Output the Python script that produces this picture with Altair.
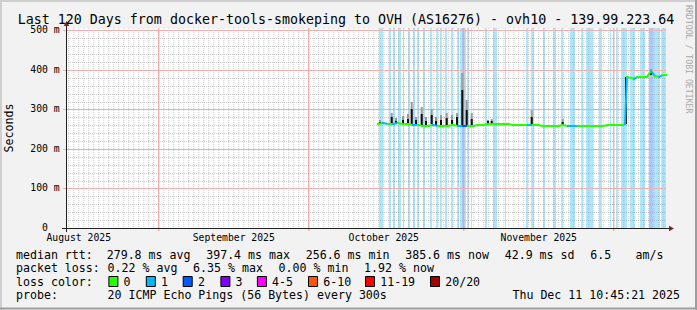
import altair as alt
import pandas as pd

# ---------------- data (times are days since 2025-08-01 00:00) ----------------
T0 = pd.Timestamp("2025-08-01 00:00")

med_day = [74.85, 75.85, 76.85, 77.85, 78.85, 79.85, 80.85, 81.85, 82.85, 83.85,
           84.85, 85.85, 86.85, 87.85, 88.85, 89.85, 90.85, 91.85, 92.85, 93.85,
           94.85, 95.85, 96.85, 97.85, 98.85, 99.85, 100.85, 101.85, 102.85, 103.85,
           104.85, 105.85, 106.85, 107.85, 108.85, 109.85, 110.85, 111.85, 112.85, 113.85,
           114.85, 115.85, 116.85, 117.85, 118.85, 119.85, 120.85, 121.85, 122.85, 123.85,
           124.25, 124.65, 125.65, 126.05, 126.65, 127.65, 128.65, 129.45, 130.25, 131.05,
           131.85, 132.45]
med_ms = [264, 266, 264, 263, 265, 264, 262, 260, 261, 259,
          259, 260, 258, 259, 258, 260, 257, 258, 259, 259,
          261, 261, 262, 263, 263, 262, 262, 261, 261, 260,
          260, 261, 260, 259, 259, 258, 258, 260, 258, 258,
          257, 258, 258, 258, 258, 259, 260, 261, 261, 261,
          262, 382, 380, 377, 382, 383, 383, 396, 385, 381,
          386, 386]
med_loss = [0, 1, 0, 1, 0, 0, 0, 1, 0, 0,
            0, 1, 0, 0, 0, 0, 1, 2, 0, 0,
            0, 0, 0, 0, 0, 0, 0, 0, 0, 0,
            1, 0, 0, 0, 0, 0, 0, 0, 1, 1,
            0, 0, 0, 0, 0, 0, 0, 0, 0, 0,
            1, 0, 0, 1, 0, 0, 0, 1, 0, 1,
            0, 0]

# smoke spikes: time, low, high (light smoke) and core (dark smoke) in ms
smoke_day = [75.25, 77.59, 78.45, 79.85, 80.85, 81.59, 82.45, 83.59, 84.45, 85.59,
             86.45, 87.45, 88.59, 89.65, 90.65, 91.71, 92.59, 93.59, 96.85, 97.59,
             105.59, 111.79, 124.45, 129.45]
smoke_lo = [266, 264, 266, 266, 264, 262, 262, 261, 261, 262,
            260, 261, 260, 262, 259, 260, 261, 261, 264, 265,
            263, 262, 264, 386]
smoke_hi = [274, 290, 278, 284, 288, 320, 282, 305, 280, 300,
            282, 287, 292, 286, 292, 392, 325, 292, 274, 275,
            298, 275, 382, 402]
smoke_core = [269, 280, 270, 272, 276, 302, 272, 289, 270, 285,
              270, 274, 279, 274, 280, 348, 298, 277, 270, 270,
              282, 269, 382, 398]

# loss background bars: start, end, loss bucket
loss_start = [75.05, 77.05, 77.85, 78.85, 79.85, 80.85, 81.85, 82.65, 83.85, 85.25,
              86.45, 87.25, 88.25, 89.45, 90.65, 91.25, 91.65, 92.05, 92.65, 93.45,
              96.25, 97.85, 100.25, 104.45, 105.45, 107.85, 109.85, 111.45, 113.25, 115.45,
              116.45, 119.05, 121.25, 122.45, 123.45, 125.25, 127.25, 129.05, 129.85, 131.45]
loss_end = [75.85, 77.45, 78.25, 79.45, 80.05, 81.25, 82.25, 83.05, 84.25, 85.65,
            86.85, 87.65, 88.65, 89.85, 91.05, 91.65, 92.05, 92.45, 93.05, 93.65,
            96.65, 98.65, 100.45, 104.85, 106.05, 108.25, 110.45, 111.85, 114.25, 115.85,
            117.85, 119.65, 121.45, 122.85, 124.65, 126.25, 128.25, 129.85, 131.25, 132.45]
loss_lvl = [1, 1, 1, 1, 1, 1, 1, 1, 1, 1,
            1, 1, 1, 1, 1, 1, 2, 1, 1, 1,
            1, 1, 1, 1, 1, 1, 1, 1, 1, 1,
            1, 1, 1, 1, 1, 1, 1, 2, 1, 1]

loss_labels = ["0", "1", "2", "3", "4-5", "6-10", "11-19", "20/20"]
loss_colors = ["#26ff00", "#00b8ff", "#0059ff", "#7e00ff", "#ff00ff", "#ff5500", "#ff0000", "#a10000"]

# axis ticks / labels
month_starts = ["2025-09-01", "2025-10-01", "2025-11-01", "2025-12-01"]
month_label_dates = ["2025-08-16", "2025-09-16", "2025-10-16", "2025-11-16"]
month_labels = ["August 2025", "September 2025", "October 2025", "November 2025"]
day_grid = [d for d in pd.date_range("2025-08-14", "2025-12-11", freq="D") if d.day != 1]
y_minor = [v for v in range(20, 501, 20) if v % 100]
y_major = [100, 200, 300, 400, 500]
y_label_vals = [0, 100, 200, 300, 400, 500]
y_label_text = ["0", "100 m", "200 m", "300 m", "400 m", "500 m"]

title_text = "Last 120 Days from docker-tools-smokeping to OVH (AS16276) - ovh10 - 139.99.223.64"
legend1 = ["median rtt:", "279.8 ms avg", "397.4 ms max", "256.6 ms min", "385.6 ms now",
           "42.9 ms sd", "6.5", "am/s"]
legend2 = ["packet loss:", "0.22 % avg", "6.35 % max", "0.00 % min", "1.92 % now"]
legend3 = "loss color:"
legend4 = ["probe:", "20 ICMP Echo Pings (56 Bytes) every 300s"]
legend_date = "Thu Dec 11 10:45:21 2025"

# ---------------- layout (pixels) ----------------
legend1_x = [16, 106.7, 206.2, 305.7, 405.2, 504.7, 590.2, 635.6]
legend2_x = [16, 107.6, 193.1, 278.6, 364.1]
legend4_x = [16, 107.6]
box_x = [108.4, 145.8, 182.7, 220.4, 256.9, 308, 365, 430]
row_y = [258.5, 272, 285.5, 299.3]

# ---------------- frames ----------------
def tdays(days):
    return [T0 + pd.Timedelta(days=float(d)) for d in days]

med = pd.DataFrame({"t": tdays(med_day), "ms": med_ms, "loss": med_loss})
med["t2"] = med["t"].shift(-1)
med["ms2"] = med["ms"].shift(-1)
med = med.dropna()

smoke = pd.DataFrame({"t": tdays(smoke_day), "lo": smoke_lo, "hi": smoke_hi, "core": smoke_core})
loss = pd.DataFrame({"s": tdays(loss_start), "e": tdays(loss_end), "loss": loss_lvl})
months = pd.DataFrame({"tm": pd.to_datetime(month_starts)})
mlabels = pd.DataFrame({"tl": pd.to_datetime(month_label_dates), "label": month_labels})
days = pd.DataFrame({"td": day_grid})
ymin = pd.DataFrame({"vmin": y_minor})
ymaj = pd.DataFrame({"vmaj": y_major})
ylab = pd.DataFrame({"vl": y_label_vals, "s": y_label_text})

FONT = "DejaVu Sans Mono"
W, H = 600, 200
OX, OY = 66, 28
xdom = [alt.DateTime(year=2025, month=8, date=13, hours=10, minutes=45),
        alt.DateTime(year=2025, month=12, date=11, hours=10, minutes=45)]
xscale = alt.Scale(domain=xdom)
yscale = alt.Scale(domain=[0, 506], nice=False, zero=True, round=True)
cscale = alt.Scale(domain=list(range(8)), range=loss_colors)

bars = alt.Chart(loss).mark_rect(opacity=0.33).encode(
    x=alt.X("s:T", scale=xscale, axis=None),
    x2="e:T",
    y=alt.value(0), y2=alt.value(H),
    color=alt.Color("loss:O", scale=cscale, legend=None),
)

xminor = alt.Chart(days).mark_rule(stroke="#8f8f8f", strokeOpacity=0.45,
                                   strokeDash=[1, 1], strokeWidth=1).encode(
    x=alt.X("td:T", axis=None), y=alt.value(0), y2=alt.value(H))
yminor = alt.Chart(ymin).mark_rule(yOffset=0.5, stroke="#8f8f8f", strokeOpacity=0.45,
                                   strokeDash=[1, 1], strokeWidth=1).encode(
    y=alt.Y("vmin:Q", scale=yscale, axis=None), x=alt.value(0), x2=alt.value(W))
xmajor = alt.Chart(months).mark_rule(stroke="#eba0a0", strokeWidth=1.2).encode(
    x=alt.X("tm:T", axis=None), y=alt.value(0), y2=alt.value(H + 3))
ymajor = alt.Chart(ymaj).mark_rule(yOffset=0.5, stroke="#efacac", strokeWidth=1).encode(
    y=alt.Y("vmaj:Q", axis=None), x=alt.value(-3), x2=alt.value(W))

median = alt.Chart(med).mark_rule(strokeWidth=2, strokeCap="square").encode(
    x=alt.X("t:T", axis=None), x2="t2:T",
    y=alt.Y("ms:Q", axis=None), y2="ms2:Q",
    color=alt.Color("loss:O", scale=cscale, legend=None),
)
smoke_light = alt.Chart(smoke).mark_rule(color="#9a9a9a", strokeWidth=2).encode(
    x=alt.X("t:T", axis=None), y=alt.Y("lo:Q", axis=None), y2="hi:Q")
smoke_dark = alt.Chart(smoke).mark_rule(color="#111111", strokeWidth=2).encode(
    x=alt.X("t:T", axis=None), y=alt.Y("lo:Q", axis=None), y2="core:Q")

ylabels = alt.Chart(ylab).mark_text(font=FONT, fontSize=9.75, align="center", baseline="middle",
                                    color="#000000").encode(
    y=alt.Y("vl:Q", axis=None), x=alt.value(-21), text="s:N")
month_text = alt.Chart(mlabels).mark_text(font=FONT, fontSize=9.75, baseline="alphabetic",
                                          color="#000000").encode(
    x=alt.X("tl:T", axis=None), y=alt.value(213.3), text="label:N")

one = alt.Data(values=[{"k": 0}])

def rule(x, x2, y, y2, color, width=1):
    return alt.Chart(one).mark_rule(color=color, strokeWidth=width).encode(
        x=alt.value(x), x2=alt.value(x2), y=alt.value(y), y2=alt.value(y2))

def text(s, x, y, size, align="left", angle=0, color="#000000", baseline="alphabetic"):
    return alt.Chart(alt.Data(values=[{"s": s.replace(" ", "\u00a0")}])).mark_text(
        font=FONT, fontSize=size, align=align, baseline=baseline, angle=angle, color=color
    ).encode(text="s:N", x=alt.value(x), y=alt.value(y))

axes = [
    rule(-4, 607, H + 0.5, H + 0.5, "#1f1f1f"),
    rule(0.5, 0.5, -5, H + 4, "#1f1f1f"),
    alt.Chart(one).mark_point(shape="triangle-right", filled=True, size=32, color="#7f1f1f", opacity=1).encode(
        x=alt.value(605.5), y=alt.value(H + 0.5)),
    alt.Chart(one).mark_point(shape="triangle-up", filled=True, size=32, color="#7f1f1f", opacity=1).encode(
        x=alt.value(0.5), y=alt.value(-4.5)),
]

FS = 11.6
texts = [
    text(title_text, 280, 23.8 - OY, 13.3, align="center"),
    text("Seconds", 10 - OX, 128 - OY, FS, align="center", angle=270, baseline="middle"),
    text("RRDTOOL / TOBI OETIKER", 688 - OX, 5 - OY, 8.2, align="left", angle=90, color="#a8a8a8",
         baseline="middle"),
]
for s, x in zip(legend1, legend1_x):
    texts.append(text(s, x - OX, row_y[0] - OY, FS))
for s, x in zip(legend2, legend2_x):
    texts.append(text(s, x - OX, row_y[1] - OY, FS))
texts.append(text(legend3, 16 - OX, row_y[2] - OY, FS))
for s, x in zip(legend4, legend4_x):
    texts.append(text(s, x - OX, row_y[3] - OY, FS))
texts.append(text(legend_date, 680 - OX, row_y[3] - OY, FS, align="right"))

for i in range(len(loss_labels)):
    bx = box_x[i] - OX
    texts.append(alt.Chart(one).mark_rect(stroke="#000000", strokeWidth=1, fill=loss_colors[i]).encode(
        x=alt.value(bx + 0.5), x2=alt.value(bx + 9.5), y=alt.value(276.5 - OY), y2=alt.value(286.5 - OY)))
    texts.append(text(loss_labels[i], bx + 15.2, row_y[2] - OY, FS))

frame = [
    rule(-OX, 631, -27, -27, "#cfcfcf", 2),
    rule(-65, -65, -OY, 282, "#cfcfcf", 2),
    rule(-OX, 631, 280.5, 280.5, "#9e9e9e", 2),
    rule(630, 630, -OY, 282, "#9e9e9e", 2),
]

chart = alt.layer(bars, xminor, yminor, xmajor, ymajor, smoke_light, smoke_dark, median,
                  ylabels, month_text, *axes, *texts, *frame).properties(
    width=W, height=H,
    padding={"left": OX, "top": OY, "right": 697 - OX - W, "bottom": 310 - OY - H},
    autosize=alt.AutoSizeParams(type="none"),
    background="#f2f2f2",
).configure_view(fill="#ffffff", stroke=None)

chart.save("out.html", embed_options={"renderer": "svg", "actions": False})
